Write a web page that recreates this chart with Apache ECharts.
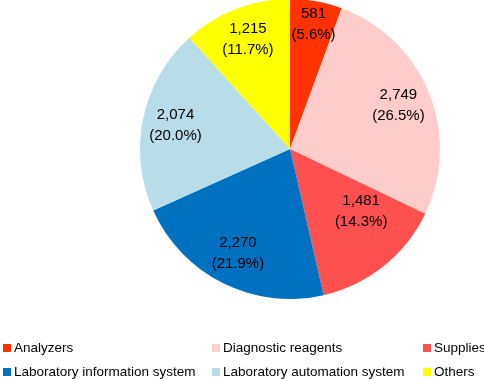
<!DOCTYPE html>
<html><head><meta charset="utf-8">
<script src="https://cdn.jsdelivr.net/npm/echarts@6/dist/echarts.min.js"></script>
<style>html,body{margin:0;padding:0;background:#fff}#c{width:484px;height:379px}</style>
</head><body><div id="c"></div>
<script>
const categories = ["Analyzers","Diagnostic reagents","Supplies","Laboratory information system","Laboratory automation system","Others"];
const values = [581, 2749, 1481, 2270, 2074, 1215];
const percents = ["5.6%","26.5%","14.3%","21.9%","20.0%","11.7%"];
const colors = ["#FF3300","#FFCCCC","#FF5050","#0070C0","#B7DEE8","#FFFF00"];

const font = "'Liberation Sans', Arial, sans-serif";
const labelNudge = {0:[3,-9], 2:[-2,-29]};
const chart = echarts.init(document.getElementById('c'), null, {renderer:'canvas'});
const pieData = categories.map((n,i)=>({name:n, value:values[i], itemStyle:{color:colors[i]}}));
const fmt = v => v.toLocaleString('en-US');
function legendCol(names, left){
  return {orient:'vertical', left:left, top:341, height:40, padding:0, itemWidth:8, itemHeight:8, itemGap:10, icon:'rect',
    data:names, textStyle:{fontFamily:font, fontSize:13.5, color:'#000', padding:[0,0,0,-2]}, selectedMode:false};
}
chart.setOption({
  animation:false,
  legend:[
    legendCol([categories[0],categories[3]], 3),
    legendCol([categories[1],categories[4]], 212),
    legendCol([categories[2],categories[5]], 423)
  ],
  series:[
    {type:'pie', center:[290,149], radius:[0,150], startAngle:90, clockwise:true,
     data:pieData, label:{show:false}, labelLine:{show:false}, silent:true},
    {type:'pie', center:[290,149], radius:[78,150], startAngle:90, clockwise:true, silent:true,
     data:categories.map((n,i)=>({name:n, value:values[i], itemStyle:{color:'rgba(0,0,0,0)'},
       label: labelNudge[i] ? {offset:labelNudge[i]} : undefined})),
     label:{show:true, position:'inside', fontFamily:font, fontSize:15, color:'#000', lineHeight:21,
       formatter:p=>fmt(values[p.dataIndex])+'\n('+percents[p.dataIndex]+')'},
     labelLine:{show:false}}
  ]
});
</script></body></html>
